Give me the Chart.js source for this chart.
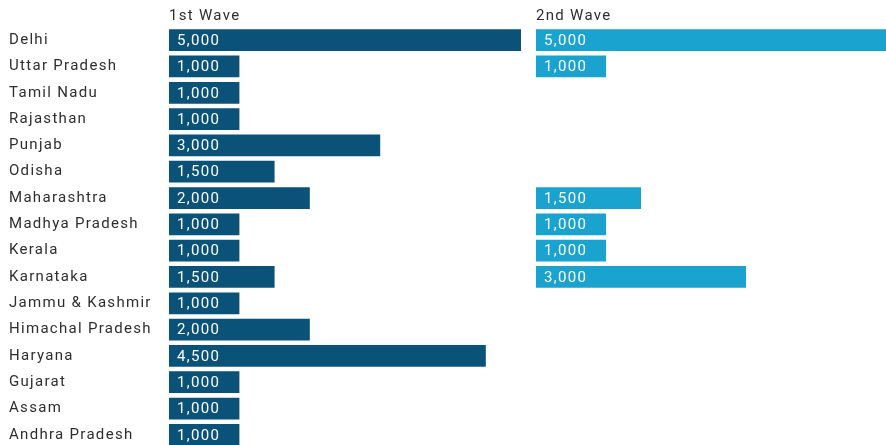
<!DOCTYPE html>
<html><head><meta charset="utf-8">
<script src="https://cdn.jsdelivr.net/npm/chart.js@4/dist/chart.umd.min.js"></script>
<style>
html,body{margin:0;padding:0;background:#fff;overflow:hidden;width:886px;height:445px;}
#c1{position:absolute;left:0;top:0;}
#c2{position:absolute;left:536px;top:0;}
</style></head>
<body>
<canvas id="c1" width="521" height="448"></canvas>
<canvas id="c2" width="350" height="448"></canvas>
<script>
const states = ["Delhi","Uttar Pradesh","Tamil Nadu","Rajasthan","Punjab","Odisha","Maharashtra","Madhya Pradesh","Kerala","Karnataka","Jammu & Kashmir","Himachal Pradesh","Haryana","Gujarat","Assam","Andhra Pradesh"];
const wave1 = [5000,1000,1000,1000,3000,1500,2000,1000,1000,1500,1000,2000,4500,1000,1000,1000];
const wave2 = [5000,1000,null,null,null,null,1500,1000,1000,3000,null,null,null,null,null,null];
const titles = ["1st Wave","2nd Wave"];

const FONT = "Roboto, 'Noto Sans', sans-serif";
const SPACING = '1.3px';

const spacingPlugin = {
  id:'spacing',
  beforeDraw(chart){ chart.ctx.letterSpacing = SPACING; }
};

const panelTitle = {
  id:'panelTitle',
  afterDraw(chart, args, opts){
    const ctx = chart.ctx;
    ctx.save();
    ctx.letterSpacing = SPACING;
    ctx.fillStyle = '#2e2e2e';
    ctx.font = '15px ' + FONT;
    ctx.textAlign = 'left';
    ctx.textBaseline = 'middle';
    ctx.fillText(opts.text, chart.chartArea.left, 16);
    ctx.restore();
  }
};

const valueLabels = {
  id:'valueLabels',
  afterDatasetsDraw(chart){
    const ctx = chart.ctx;
    ctx.save();
    ctx.letterSpacing = SPACING;
    ctx.fillStyle = '#ffffff';
    ctx.font = '15px ' + FONT;
    ctx.textAlign = 'left';
    ctx.textBaseline = 'middle';
    const ds = chart.data.datasets[0];
    chart.getDatasetMeta(0).data.forEach((bar,i)=>{
      const v = ds.data[i];
      if (v == null) return;
      ctx.fillText(v.toLocaleString('en-US'), bar.base + 8, bar.y + 1);
    });
    ctx.restore();
  }
};

function makeChart(id, data, color, title, showY){
  const yScale = {display:showY, grid:{display:false}, border:{display:false},
     ticks:{crossAlign:'far', color:'#2e2e2e', font:{family:FONT, size:15}, padding:0, autoSkip:false}};
  if (showY) yScale.afterFit = function(s){ s.width = 160; s.paddingTop = 0; s.paddingBottom = 0; };
  return new Chart(document.getElementById(id), {
    type:'bar',
    data:{labels:states, datasets:[{data:data, backgroundColor:color, barPercentage:0.825, categoryPercentage:1.0}]},
    plugins:[spacingPlugin, valueLabels, panelTitle],
    options:{
      indexAxis:'y', responsive:false, maintainAspectRatio:false, animation:false, devicePixelRatio:1,
      layout:{padding:{left: showY?9:0, right:0, top:27, bottom:0}},
      plugins:{legend:{display:false}, tooltip:{enabled:false}, panelTitle:{text:title}},
      scales:{
        x:{display:false, min:0, max:5000},
        y:yScale
      }
    }
  });
}
makeChart('c1', wave1, '#0b5279', titles[0], true);
makeChart('c2', wave2, '#1ba3d0', titles[1], false);
</script>
</body></html>
